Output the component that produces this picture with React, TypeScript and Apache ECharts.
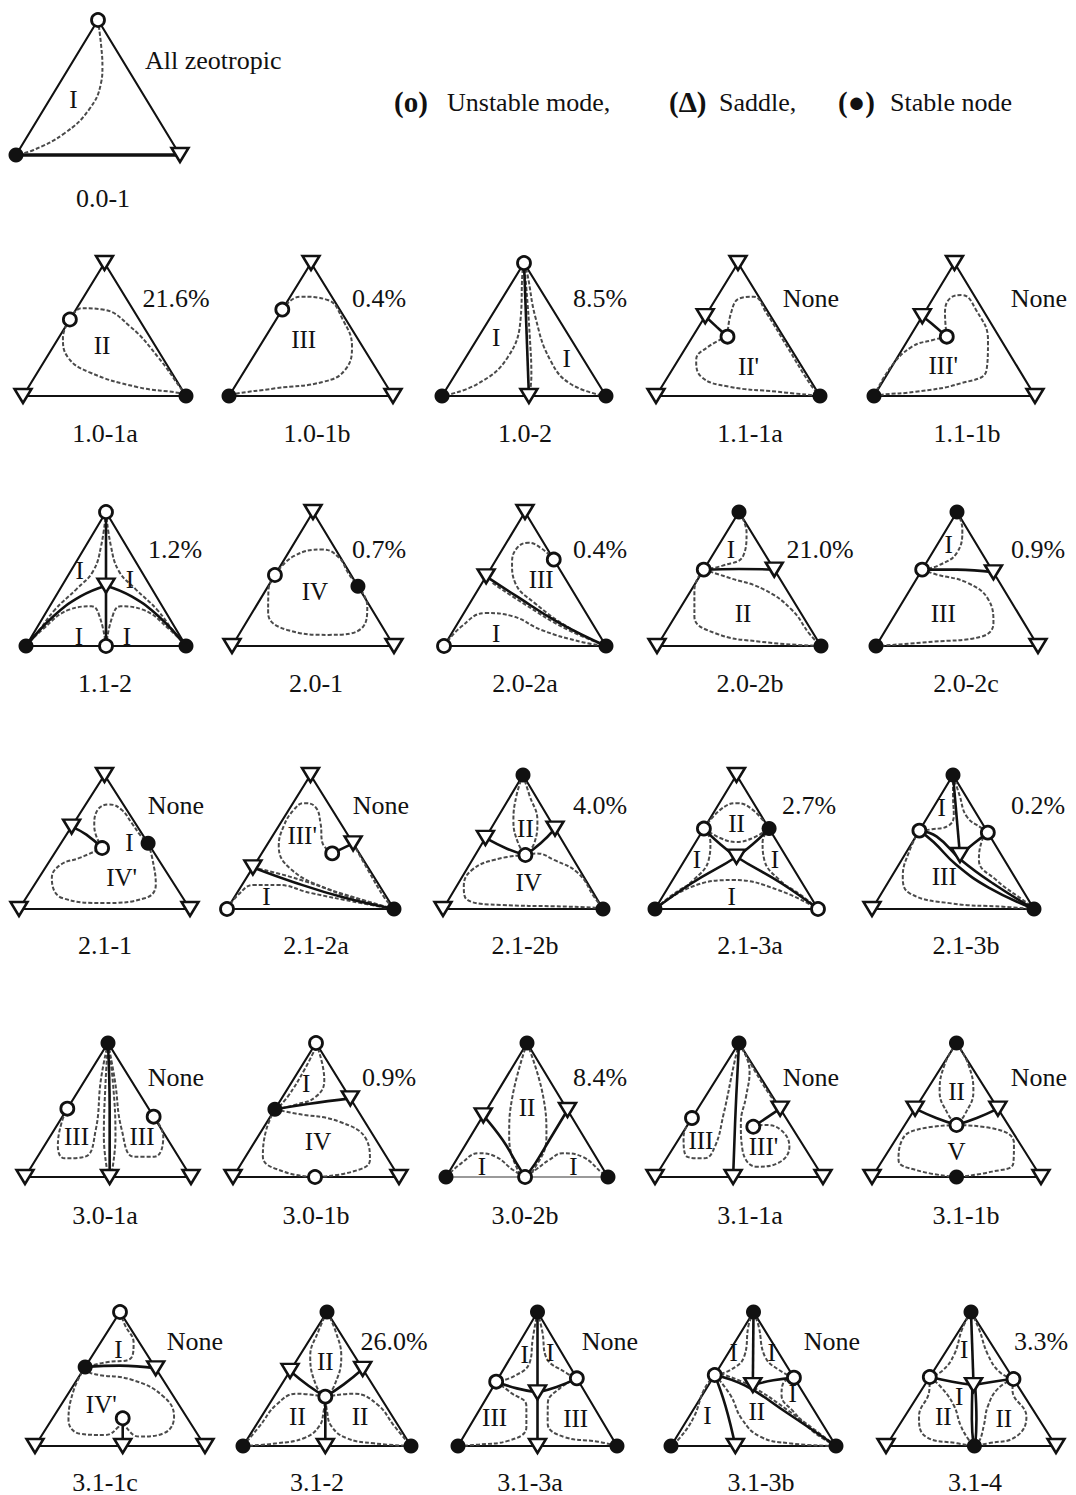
import React, { useEffect, useRef } from "react";
import * as echarts from "echarts";

type Pt = [number, number];
type Node = [string, number, number];
type Label = [string, number, number];

// ---------- data ----------
const NAMES = [
  "0.0-1",
  "1.0-1a", "1.0-1b", "1.0-2", "1.1-1a", "1.1-1b",
  "1.1-2", "2.0-1", "2.0-2a", "2.0-2b", "2.0-2c",
  "2.1-1", "2.1-2a", "2.1-2b", "2.1-3a", "2.1-3b",
  "3.0-1a", "3.0-1b", "3.0-2b", "3.1-1a", "3.1-1b",
  "3.1-1c", "3.1-2", "3.1-3a", "3.1-3b", "3.1-4",
];

const SHARES = [
  "All zeotropic",
  "21.6%", "0.4%", "8.5%", "None", "None",
  "1.2%", "0.7%", "0.4%", "21.0%", "0.9%",
  "None", "None", "4.0%", "2.7%", "0.2%",
  "None", "0.9%", "8.4%", "None", "None",
  "None", "26.0%", "None", "None", "3.3%",
];

const LEGEND_MARKS = ["(o)", "(\u0394)", "(\u25CF)"];
const LEGEND_TEXTS = ["Unstable mode,", "Saddle,", "Stable node"];

// o = unstable node, s = saddle, n = stable node; [kind, u, v] in triangle coordinates
const NODES: Node[][] = [
  [["o", 0.5, 1], ["n", 0, 0], ["s", 1, 0]],
  [["s", 0.5, 1], ["s", 0, 0], ["n", 1, 0], ["o", 0.2875, 0.575]],
  [["s", 0.5, 1], ["n", 0, 0], ["s", 1, 0], ["o", 0.325, 0.65]],
  [["o", 0.5, 1], ["n", 0, 0], ["n", 1, 0], ["s", 0.53, 0]],
  [["s", 0.5, 1], ["s", 0, 0], ["n", 1, 0], ["s", 0.3, 0.6], ["o", 0.436, 0.446]],
  [["s", 0.5, 1], ["n", 0, 0], ["s", 1, 0], ["s", 0.3, 0.6], ["o", 0.452, 0.446]],
  [["o", 0.5, 1], ["n", 0, 0], ["n", 1, 0], ["o", 0.5, 0], ["s", 0.5, 0.45]],
  [["s", 0.5, 1], ["s", 0, 0], ["s", 1, 0], ["o", 0.265, 0.53], ["n", 0.7775, 0.445]],
  [["s", 0.5, 1], ["o", 0, 0], ["n", 1, 0], ["s", 0.26, 0.52], ["o", 0.6775, 0.645]],
  [["n", 0.5, 1], ["s", 0, 0], ["n", 1, 0], ["o", 0.285, 0.57], ["s", 0.715, 0.57]],
  [["n", 0.5, 1], ["n", 0, 0], ["s", 1, 0], ["o", 0.285, 0.57], ["s", 0.725, 0.55]],
  [["s", 0.5, 1], ["s", 0, 0], ["s", 1, 0], ["s", 0.3075, 0.615], ["o", 0.486, 0.455], ["n", 0.755, 0.49]],
  [["s", 0.5, 1], ["o", 0, 0], ["n", 1, 0], ["s", 0.155, 0.31], ["s", 0.755, 0.49], ["o", 0.63, 0.415]],
  [["n", 0.5, 1], ["s", 0, 0], ["n", 1, 0], ["s", 0.265, 0.53], ["s", 0.7, 0.6], ["o", 0.515, 0.403]],
  [["s", 0.5, 1], ["n", 0, 0], ["o", 1, 0], ["o", 0.3, 0.6], ["n", 0.7, 0.6], ["s", 0.5, 0.39]],
  [["n", 0.5, 1], ["s", 0, 0], ["n", 1, 0], ["o", 0.2925, 0.585], ["o", 0.715, 0.57], ["s", 0.543, 0.403]],
  [["n", 0.5, 1], ["s", 0, 0], ["s", 0.51, 0], ["s", 1, 0], ["o", 0.255, 0.51], ["o", 0.775, 0.45]],
  [["o", 0.5, 1], ["s", 0, 0], ["s", 1, 0], ["o", 0.494, 0], ["s", 0.7065, 0.587], ["n", 0.2525, 0.505]],
  [["n", 0.5, 1], ["n", 0, 0], ["n", 1, 0], ["o", 0.488, 0], ["s", 0.23, 0.46], ["s", 0.75, 0.5]],
  [["n", 0.5, 1], ["s", 0, 0], ["s", 0.465, 0], ["s", 1, 0], ["o", 0.22, 0.44], ["s", 0.745, 0.51], ["o", 0.585, 0.375]],
  [["n", 0.5, 1], ["s", 0, 0], ["s", 1, 0], ["n", 0.5, 0], ["s", 0.255, 0.51], ["s", 0.745, 0.51], ["o", 0.5, 0.388]],
  [["o", 0.5, 1], ["s", 0, 0], ["s", 0.516, 0], ["s", 1, 0], ["n", 0.295, 0.59], ["s", 0.71, 0.58], ["o", 0.516, 0.207]],
  [["n", 0.5, 1], ["n", 0, 0], ["n", 1, 0], ["s", 0.49, 0], ["s", 0.28, 0.56], ["s", 0.7125, 0.575], ["o", 0.49, 0.368]],
  [["n", 0.5, 1], ["n", 0, 0], ["n", 1, 0], ["s", 0.5, 0], ["o", 0.24, 0.48], ["o", 0.7475, 0.505], ["s", 0.5, 0.4]],
  [["n", 0.5, 1], ["n", 0, 0], ["n", 1, 0], ["s", 0.39, 0], ["o", 0.265, 0.53], ["o", 0.745, 0.51], ["s", 0.496, 0.455]],
  [["n", 0.5, 1], ["s", 0, 0], ["s", 1, 0], ["n", 0.52, 0], ["o", 0.2575, 0.515], ["o", 0.75, 0.5], ["s", 0.515, 0.455]],
];

// solid separatrices
const SOLID: Pt[][][] = [
  [],
  [],
  [],
  [[[0.5, 1], [0.53, 0]]],
  [[[0.3, 0.6], [0.37, 0.52], [0.436, 0.446]]],
  [[[0.3, 0.6], [0.354, 0.549], [0.452, 0.446]]],
  [[[0.5, 1], [0.5, 0.45]], [[0.5, 0.45], [0.5, 0]], [[0.5, 0.45], [0.34, 0.37], [0.17, 0.22], [0, 0]], [[0.5, 0.45], [0.66, 0.37], [0.83, 0.22], [1, 0]]],
  [],
  [[[0.26, 0.52], [0.45, 0.37], [0.7, 0.18], [1, 0]]],
  [[[0.285, 0.57], [0.5, 0.575], [0.715, 0.57]]],
  [[[0.285, 0.57], [0.5, 0.57], [0.725, 0.55]]],
  [[[0.3075, 0.615], [0.394, 0.555], [0.486, 0.455]]],
  [[[0.755, 0.49], [0.63, 0.415]], [[0.155, 0.31], [0.4, 0.2], [0.7, 0.085], [1, 0]]],
  [[[0.265, 0.53], [0.4, 0.45], [0.515, 0.403]], [[0.515, 0.403], [0.61, 0.49], [0.7, 0.6]]],
  [[[0, 0], [0.225, 0.192], [0.5, 0.39], [0.629, 0.515], [0.7, 0.6]], [[0.3, 0.6], [0.371, 0.515], [0.5, 0.39], [0.775, 0.192], [1, 0]]],
  [[[0.5, 1], [0.543, 0.403]], [[0.543, 0.403], [0.63, 0.49], [0.715, 0.57]], [[0.2925, 0.585], [0.4, 0.54], [0.55, 0.366], [0.745, 0.192], [1, 0]], [[0.2925, 0.585], [0.38, 0.5], [0.52, 0.33], [0.72, 0.16], [1, 0]]],
  [[[0.5, 1], [0.51, 0.5], [0.51, 0]]],
  [[[0.2525, 0.505], [0.45, 0.545], [0.7065, 0.587]]],
  [[[0.23, 0.46], [0.35, 0.276], [0.436, 0.102], [0.488, 0]], [[0.75, 0.5], [0.64, 0.28], [0.55, 0.1], [0.488, 0]]],
  [[[0.5, 1], [0.48, 0.5], [0.465, 0]], [[0.745, 0.51], [0.585, 0.375]]],
  [[[0.255, 0.51], [0.38, 0.44], [0.5, 0.388]], [[0.5, 0.388], [0.62, 0.44], [0.745, 0.51]]],
  [[[0.295, 0.59], [0.5, 0.6], [0.71, 0.58]], [[0.516, 0.207], [0.516, 0]]],
  [[[0.28, 0.56], [0.39, 0.45], [0.49, 0.368]], [[0.49, 0.368], [0.6, 0.46], [0.7125, 0.575]], [[0.49, 0.368], [0.49, 0]]],
  [[[0.5, 1], [0.5, 0.4]], [[0.5, 0.4], [0.5, 0]], [[0.24, 0.48], [0.37, 0.43], [0.5, 0.4]], [[0.5, 0.4], [0.62, 0.44], [0.7475, 0.505]]],
  [[[0.5, 1], [0.496, 0.455]], [[0.496, 0.455], [0.62, 0.49], [0.745, 0.51]], [[0.265, 0.53], [0.45, 0.45], [0.7, 0.25], [1, 0]], [[0.265, 0.53], [0.33, 0.3], [0.39, 0]]],
  [[[0.5, 1], [0.515, 0.455]], [[0.2575, 0.515], [0.39, 0.48], [0.515, 0.455]], [[0.515, 0.455], [0.63, 0.48], [0.75, 0.5]], [[0.508, 0.44], [0.505, 0.2], [0.515, 0]], [[0.525, 0.44], [0.532, 0.2], [0.525, 0]]],
];

// dashed boundaries of distillation regions
const DASHED: Pt[][][] = [
  [[[0.5, 1], [0.52, 0.8], [0.527, 0.654], [0.518, 0.531], [0.443, 0.333], [0.296, 0.161], [0.107, 0.037], [0, 0]]],
  [
    [[0.2875, 0.575], [0.36, 0.66], [0.49, 0.65], [0.66, 0.52], [0.83, 0.29], [0.975, 0.045], [1, 0]],
    [[0.2875, 0.575], [0.245, 0.44], [0.276, 0.29], [0.405, 0.18], [0.7, 0.068], [0.97, 0.02], [1, 0]],
  ],
  [[[0.325, 0.65], [0.433, 0.747], [0.602, 0.722], [0.695, 0.571], [0.75, 0.371], [0.707, 0.195], [0.579, 0.108], [0.285, 0.058], [0.03, 0.015], [0, 0]]],
  [
    [[0.5, 1], [0.49, 0.92], [0.48, 0.59], [0.4, 0.29], [0.215, 0.09], [0, 0]],
    [[0.5, 1], [0.52, 0.92], [0.57, 0.59], [0.66, 0.27], [0.785, 0.09], [1, 0]],
    [[0.5, 1], [0.515, 0.8], [0.535, 0.45], [0.545, 0.15], [0.535, 0.02]],
  ],
  [
    [[0.436, 0.446], [0.457, 0.622], [0.509, 0.734], [0.595, 0.747], [0.675, 0.62], [0.8, 0.37], [0.94, 0.09], [1, 0]],
    [[0.436, 0.446], [0.319, 0.371], [0.245, 0.271], [0.276, 0.145], [0.447, 0.07], [0.742, 0.032], [1, 0]],
  ],
  [
    [[0.452, 0.446], [0.441, 0.622], [0.472, 0.734], [0.547, 0.759], [0.634, 0.647], [0.708, 0.421], [0.699, 0.195], [0.538, 0.095], [0.258, 0.032], [0.05, 0.01], [0, 0]],
    [[0.452, 0.446], [0.366, 0.421], [0.236, 0.371], [0.106, 0.22], [0, 0]],
  ],
  [
    [[0.5, 1], [0.47, 0.75], [0.42, 0.56], [0.32, 0.43], [0.18, 0.27], [0.06, 0.08], [0, 0]],
    [[0.5, 1], [0.53, 0.75], [0.58, 0.56], [0.68, 0.43], [0.82, 0.27], [0.94, 0.08], [1, 0]],
    [[0.5, 0], [0.46, 0.22], [0.41, 0.296], [0.27, 0.271], [0.1, 0.12], [0, 0]],
    [[0.5, 0], [0.54, 0.22], [0.59, 0.296], [0.73, 0.271], [0.9, 0.12], [1, 0]],
  ],
  [
    [[0.265, 0.53], [0.38, 0.67], [0.56, 0.72], [0.66, 0.66], [0.72, 0.54], [0.7775, 0.445]],
    [[0.265, 0.53], [0.225, 0.42], [0.223, 0.246], [0.341, 0.12], [0.597, 0.083], [0.81, 0.145], [0.835, 0.3], [0.7775, 0.445]],
  ],
  [
    [[0.6775, 0.645], [0.6, 0.73], [0.52, 0.77], [0.45, 0.73], [0.42, 0.62], [0.44, 0.47], [0.56, 0.32], [0.78, 0.13], [1, 0]],
    [[0, 0], [0.107, 0.145], [0.257, 0.246], [0.43, 0.22], [0.6, 0.12], [0.85, 0.03], [1, 0]],
    [[0.3, 0.47], [0.5, 0.31], [0.75, 0.13], [1, 0]],
  ],
  [
    [[0.285, 0.57], [0.4, 0.6], [0.525, 0.671], [0.546, 0.847], [0.5, 1]],
    [[0.285, 0.57], [0.228, 0.421], [0.228, 0.22], [0.356, 0.095], [0.632, 0.032], [1, 0]],
    [[0.285, 0.57], [0.44, 0.509], [0.653, 0.421], [0.822, 0.27], [0.93, 0.09], [1, 0]],
  ],
  [
    [[0.285, 0.57], [0.383, 0.6], [0.5, 0.697], [0.533, 0.872], [0.5, 1]],
    [[0.285, 0.57], [0.373, 0.534], [0.565, 0.471], [0.694, 0.346], [0.725, 0.17], [0.651, 0.07], [0.351, 0.032], [0, 0]],
  ],
  [
    [[0.486, 0.455], [0.44, 0.62], [0.46, 0.74], [0.53, 0.78], [0.6, 0.74], [0.66, 0.64], [0.71, 0.55], [0.755, 0.49]],
    [[0.755, 0.49], [0.779, 0.381], [0.8, 0.181], [0.739, 0.082], [0.496, 0.045], [0.253, 0.082], [0.192, 0.231], [0.243, 0.33], [0.354, 0.381], [0.486, 0.455]],
  ],
  [
    [[0.63, 0.415], [0.57, 0.5], [0.56, 0.64], [0.53, 0.76], [0.46, 0.79], [0.4, 0.74], [0.34, 0.62], [0.31, 0.47], [0.38, 0.3], [0.6, 0.15], [0.85, 0.05], [1, 0]],
    [[0, 0], [0.07, 0.11], [0.16, 0.18], [0.3, 0.18], [0.5, 0.12], [0.8, 0.045], [1, 0]],
    [[0.755, 0.49], [0.84, 0.3], [0.94, 0.09], [1, 0]],
    [[0.155, 0.31], [0.38, 0.24], [0.7, 0.11], [1, 0]],
  ],
  [
    [[0.5, 1], [0.46, 0.85], [0.44, 0.66], [0.47, 0.49], [0.515, 0.403]],
    [[0.5, 1], [0.54, 0.85], [0.59, 0.66], [0.57, 0.49], [0.515, 0.403]],
    [[0.515, 0.403], [0.33, 0.37], [0.18, 0.29], [0.13, 0.17], [0.15, 0.07], [0.37, 0.03], [0.7, 0.02], [0.95, 0.01], [1, 0]],
    [[0.515, 0.403], [0.585, 0.415], [0.694, 0.366], [0.846, 0.266], [0.945, 0.09], [1, 0]],
  ],
  [
    [[0.3, 0.6], [0.4, 0.74], [0.5, 0.79], [0.6, 0.74], [0.7, 0.6]],
    [[0.3, 0.6], [0.4, 0.53], [0.5, 0.5], [0.6, 0.53], [0.7, 0.6]],
    [[0.3, 0.6], [0.34, 0.5], [0.33, 0.37], [0.24, 0.22], [0.1, 0.1], [0, 0]],
    [[0.7, 0.6], [0.66, 0.5], [0.67, 0.37], [0.76, 0.22], [0.9, 0.1], [1, 0]],
    [[0, 0], [0.225, 0.166], [0.48, 0.216], [0.756, 0.142], [1, 0]],
  ],
  [
    [[0.5, 1], [0.5, 0.85], [0.505, 0.7], [0.47, 0.62], [0.37, 0.595], [0.2925, 0.585]],
    [[0.5, 1], [0.54, 0.85], [0.585, 0.69], [0.68, 0.6], [0.715, 0.57]],
    [[0.2925, 0.585], [0.233, 0.44], [0.19, 0.241], [0.233, 0.117], [0.489, 0.042], [0.81, 0.017], [1, 0]],
    [[0.715, 0.57], [0.68, 0.515], [0.66, 0.366], [0.767, 0.216], [0.96, 0.042], [1, 0]],
  ],
  [
    [[0.5, 1], [0.457, 0.724], [0.426, 0.351], [0.363, 0.152], [0.239, 0.139], [0.198, 0.226], [0.219, 0.4], [0.255, 0.51]],
    [[0.5, 1], [0.541, 0.724], [0.583, 0.351], [0.656, 0.152], [0.78, 0.152], [0.833, 0.3], [0.775, 0.45]],
    [[0.5, 1], [0.485, 0.7], [0.475, 0.3], [0.495, 0.05]],
    [[0.5, 1], [0.53, 0.7], [0.545, 0.3], [0.525, 0.05]],
  ],
  [
    [[0.5, 1], [0.55, 0.724], [0.5, 0.6], [0.37, 0.537], [0.2525, 0.505]],
    [[0.5, 0.97], [0.43, 0.8], [0.33, 0.6], [0.265, 0.51]],
    [[0.2525, 0.505], [0.37, 0.475], [0.64, 0.413], [0.805, 0.276], [0.825, 0.127], [0.72, 0.04], [0.494, 0]],
    [[0.2525, 0.505], [0.2, 0.351], [0.18, 0.152], [0.305, 0.04], [0.494, 0]],
  ],
  [
    [[0.5, 1], [0.41, 0.6], [0.39, 0.3], [0.45, 0.03], [0.488, 0]],
    [[0.5, 1], [0.6, 0.6], [0.62, 0.3], [0.53, 0.03], [0.488, 0]],
    [[0, 0], [0.094, 0.102], [0.2, 0.177], [0.307, 0.152], [0.414, 0.052], [0.488, 0]],
    [[0.488, 0], [0.56, 0.06], [0.64, 0.13], [0.72, 0.177], [0.84, 0.152], [0.967, 0.027], [1, 0]],
  ],
  [
    [[0.5, 1], [0.47, 0.84], [0.408, 0.468], [0.356, 0.226], [0.293, 0.139], [0.19, 0.152], [0.17, 0.3], [0.22, 0.44]],
    [[0.5, 1], [0.563, 0.79], [0.542, 0.6], [0.511, 0.4], [0.521, 0.201], [0.605, 0.077], [0.729, 0.102], [0.8, 0.226], [0.749, 0.351], [0.646, 0.388], [0.585, 0.375]],
    [[0.5, 1], [0.6, 0.78], [0.68, 0.62], [0.745, 0.51]],
  ],
  [
    [[0.5, 1], [0.43, 0.84], [0.4, 0.64], [0.45, 0.468], [0.5, 0.388]],
    [[0.5, 1], [0.57, 0.84], [0.6, 0.64], [0.55, 0.468], [0.5, 0.388]],
    [[0.5, 0.388], [0.26, 0.351], [0.178, 0.276], [0.157, 0.127], [0.26, 0.052], [0.5, 0]],
    [[0.5, 0.388], [0.754, 0.351], [0.84, 0.251], [0.836, 0.102], [0.71, 0.04], [0.5, 0]],
  ],
  [
    [[0.5, 1], [0.53, 0.9], [0.58, 0.77], [0.56, 0.65], [0.42, 0.625], [0.295, 0.59]],
    [[0.295, 0.59], [0.33, 0.543], [0.573, 0.493], [0.757, 0.368], [0.818, 0.219], [0.757, 0.095], [0.614, 0.07], [0.533, 0.144], [0.516, 0.207]],
    [[0.295, 0.59], [0.228, 0.418], [0.197, 0.194], [0.268, 0.09], [0.411, 0.082], [0.492, 0.144], [0.516, 0.207]],
  ],
  [
    [[0.5, 1], [0.45, 0.86], [0.4, 0.667], [0.438, 0.443], [0.49, 0.368]],
    [[0.5, 1], [0.55, 0.86], [0.585, 0.667], [0.541, 0.443], [0.49, 0.368]],
    [[0.49, 0.368], [0.32, 0.39], [0.2, 0.31], [0.1, 0.15], [0, 0]],
    [[0, 0], [0.2, 0.02], [0.365, 0.06], [0.455, 0.15], [0.48, 0.26], [0.49, 0.368]],
    [[0.49, 0.368], [0.66, 0.39], [0.8, 0.31], [0.9, 0.15], [1, 0]],
    [[1, 0], [0.78, 0.02], [0.614, 0.06], [0.525, 0.15], [0.5, 0.26], [0.49, 0.368]],
  ],
  [
    [[0.5, 1], [0.47, 0.8], [0.45, 0.62], [0.35, 0.52], [0.24, 0.48]],
    [[0.5, 1], [0.531, 0.85], [0.553, 0.666], [0.684, 0.543], [0.7475, 0.505]],
    [[0.24, 0.48], [0.33, 0.4], [0.43, 0.3], [0.43, 0.14], [0.32, 0.04], [0.12, 0.01], [0, 0]],
    [[0.7475, 0.505], [0.64, 0.43], [0.565, 0.32], [0.564, 0.169], [0.663, 0.069], [0.882, 0.032], [1, 0]],
  ],
  [
    [[0.5, 1], [0.47, 0.9], [0.443, 0.666], [0.359, 0.567], [0.265, 0.53]],
    [[0.5, 1], [0.53, 0.9], [0.57, 0.666], [0.655, 0.567], [0.745, 0.51]],
    [[0.745, 0.51], [0.68, 0.47], [0.67, 0.38], [0.74, 0.26], [0.87, 0.1], [1, 0]],
    [[0.265, 0.53], [0.2, 0.42], [0.14, 0.22], [0.06, 0.07], [0, 0]],
    [[0.265, 0.53], [0.36, 0.38], [0.43, 0.2], [0.54, 0.07], [0.72, 0.02], [1, 0]],
    [[0.3, 0.54], [0.48, 0.45], [0.71, 0.265], [1, 0]],
  ],
  [
    [[0.5, 1], [0.45, 0.88], [0.4, 0.68], [0.33, 0.56], [0.2575, 0.515]],
    [[0.5, 1], [0.545, 0.88], [0.6, 0.68], [0.67, 0.55], [0.75, 0.5]],
    [[0.2575, 0.515], [0.255, 0.418], [0.194, 0.219], [0.235, 0.069], [0.418, 0.02], [0.52, 0]],
    [[0.2575, 0.515], [0.33, 0.43], [0.4, 0.3], [0.44, 0.15], [0.49, 0.04], [0.52, 0]],
    [[0.75, 0.5], [0.744, 0.418], [0.826, 0.219], [0.764, 0.069], [0.6, 0.02], [0.52, 0]],
    [[0.75, 0.5], [0.66, 0.43], [0.6, 0.3], [0.575, 0.15], [0.55, 0.04], [0.52, 0]],
  ],
];

// region labels
const REGIONS: Label[][] = [
  [["I", 0.35, 0.41]],
  [["II", 0.485, 0.376]],
  [["III", 0.455, 0.425]],
  [["I", 0.33, 0.44], ["I", 0.76, 0.28]],
  [["II'", 0.564, 0.22]],
  [["III'", 0.43, 0.233]],
  [["I", 0.335, 0.56], ["I", 0.65, 0.5], ["I", 0.33, 0.07], ["I", 0.63, 0.07]],
  [["IV", 0.512, 0.408]],
  [["III", 0.6, 0.5], ["I", 0.322, 0.095]],
  [["I", 0.45, 0.72], ["II", 0.525, 0.246]],
  [["I", 0.448, 0.76], ["III", 0.415, 0.246]],
  [["I", 0.645, 0.5], ["IV'", 0.6, 0.235]],
  [["III'", 0.45, 0.55], ["I", 0.236, 0.092]],
  [["II", 0.515, 0.6], ["IV", 0.535, 0.2]],
  [["II", 0.5, 0.64], ["I", 0.257, 0.366], ["I", 0.735, 0.366], ["I", 0.47, 0.092]],
  [["I", 0.43, 0.76], ["III", 0.446, 0.241]],
  [["III", 0.31, 0.3], ["III", 0.705, 0.3]],
  [["I", 0.44, 0.7], ["IV", 0.512, 0.263]],
  [["II", 0.5, 0.52], ["I", 0.222, 0.077], ["I", 0.786, 0.077]],
  [["III", 0.273, 0.276], ["III'", 0.646, 0.226]],
  [["II", 0.5, 0.64], ["V", 0.5, 0.19]],
  [["I", 0.49, 0.72], ["IV'", 0.39, 0.306]],
  [["II", 0.49, 0.63], ["II", 0.324, 0.219], ["II", 0.697, 0.219]],
  [["I", 0.42, 0.68], ["I", 0.58, 0.7], ["III", 0.23, 0.21], ["III", 0.74, 0.207]],
  [["I", 0.38, 0.7], ["I", 0.61, 0.7], ["I", 0.738, 0.393], ["I", 0.22, 0.23], ["II", 0.52, 0.26]],
  [["I", 0.46, 0.72], ["I", 0.43, 0.37], ["II", 0.337, 0.219], ["II", 0.693, 0.207]],
];

const GRAY_BASE = [18];

// ---------- layout (pixels) ----------
// [top, bottom, nameY, shareY]
const ROWS = [
  [20, 155, 198, 60],
  [263, 396, 433, 298],
  [512, 646, 683, 549],
  [775, 909, 945, 805],
  [1043, 1177, 1215, 1077],
  [1312, 1446, 1482, 1341],
];
// [row, left, right, nameX, shareX]
const PANELS = [
  [0, 16, 180, 103, 145],
  [1, 23, 186, 105, 176], [1, 229, 393, 317, 379], [1, 442, 606, 525, 600], [1, 656, 820, 750, 811], [1, 874, 1035, 967, 1039],
  [2, 26, 186, 105, 175], [2, 232, 394, 316, 379], [2, 444, 606, 525, 600], [2, 657, 821, 750, 820], [2, 876, 1038, 966, 1038],
  [3, 19, 190, 105, 176], [3, 227, 394, 316, 381], [3, 443, 603, 525, 600], [3, 655, 818, 750, 809], [3, 872, 1034, 966, 1038],
  [4, 25, 191, 105, 176], [4, 233, 399, 316, 389], [4, 446, 608, 525, 600], [4, 655, 823, 750, 811], [4, 872, 1041, 966, 1039],
  [5, 35, 205, 105, 195], [5, 243, 411, 317, 394], [5, 458, 617, 530, 610], [5, 671, 836, 761, 832], [5, 886, 1056, 975, 1041],
];
const LEGEND_X = [[394, 447], [669, 719], [838, 890]];
const LEGEND_Y = 102;

const INK = "#111111";
const SERIF = "'Liberation Serif', 'Times New Roman', serif";

function nodeItem(n: Node) {
  const [k, u, v] = n;
  if (k === "n") {
    return { value: [u, v], symbol: "circle", symbolSize: 15, itemStyle: { color: INK, borderColor: INK, borderWidth: 0, opacity: 1 } };
  }
  if (k === "o") {
    return { value: [u, v], symbol: "circle", symbolSize: 13, itemStyle: { color: "#fff", borderColor: INK, borderWidth: 2.8, opacity: 1 } };
  }
  return { value: [u, v], symbol: "triangle", symbolSize: [17, 14], symbolRotate: 180, itemStyle: { color: "#fff", borderColor: INK, borderWidth: 2.5, opacity: 1 } };
}

function textEl(text: string, x: number, y: number, size: number, align: string, weight = "normal") {
  return {
    type: "text",
    x,
    y,
    silent: true,
    style: {
      text,
      fill: INK,
      fontSize: size,
      fontFamily: SERIF,
      fontWeight: weight,
      textAlign: align,
      align,
      textVerticalAlign: "middle",
      verticalAlign: "middle",
    },
  };
}

function buildOption() {
  const grid: any[] = [];
  const xAxis: any[] = [];
  const yAxis: any[] = [];
  const series: any[] = [];
  const graphic: any[] = [];

  PANELS.forEach((p, i) => {
    const [row, L, R, nameX, shareX] = p;
    const [top, bottom, nameY, shareY] = ROWS[row];
    grid.push({ left: L, top, width: R - L, height: bottom - top, show: false, containLabel: false });
    xAxis.push({ type: "value", gridIndex: i, min: 0, max: 1, show: false });
    yAxis.push({ type: "value", gridIndex: i, min: 0, max: 1, show: false });
    const ax = { xAxisIndex: i, yAxisIndex: i };
    const common = { type: "line", ...ax, symbol: "none", showSymbol: false, clip: false, silent: true, animation: false };

    series.push({ ...common, data: [[0, 0], [0.5, 1], [1, 0]], lineStyle: { color: INK, width: 2.1, join: "miter" }, z: 2 });
    series.push({
      ...common,
      data: [[0, 0], [1, 0]],
      lineStyle: { color: GRAY_BASE.includes(i) ? "#9a9a9a" : INK, width: i === 0 ? 3.4 : 2.1 },
      z: 2,
    });
    DASHED[i].forEach((c) => {
      series.push({ ...common, data: c, smooth: 0.45, lineStyle: { color: "#4a4a4a", width: 2, type: [4, 2], opacity: 1 }, z: 3 });
    });
    SOLID[i].forEach((c) => {
      series.push({ ...common, data: c, smooth: 0.45, lineStyle: { color: INK, width: 2.6, opacity: 1 }, z: 4 });
    });
    series.push({
      type: "scatter",
      ...ax,
      silent: true,
      animation: false,
      clip: false,
      itemStyle: { opacity: 1 },
      data: NODES[i].map(nodeItem),
      z: 10,
    });
    series.push({
      type: "scatter",
      ...ax,
      silent: true,
      animation: false,
      clip: false,
      symbolSize: 1,
      itemStyle: { color: "rgba(0,0,0,0)", opacity: 1 },
      data: REGIONS[i].map(([t, u, v]) => ({ name: t, value: [u, v] })),
      label: { show: true, position: "inside", formatter: "{b}", fontFamily: SERIF, fontSize: 25, color: INK },
      z: 11,
    });

    graphic.push(textEl(NAMES[i], nameX, nameY, 26, "center"));
    if (i === 0) {
      graphic.push(textEl(SHARES[i], shareX, shareY, 26, "left"));
    } else {
      graphic.push(textEl(SHARES[i], shareX, shareY, 26, "center"));
    }
  });

  LEGEND_MARKS.forEach((m, k) => {
    graphic.push(textEl(m, LEGEND_X[k][0], LEGEND_Y, 29, "left", "bold"));
    graphic.push(textEl(LEGEND_TEXTS[k], LEGEND_X[k][1], LEGEND_Y, 26, "left"));
  });

  return {
    animation: false,
    backgroundColor: "#ffffff",
    grid,
    xAxis,
    yAxis,
    series,
    graphic,
  };
}

export default function App() {
  const ref = useRef<HTMLDivElement>(null);
  useEffect(() => {
    document.body.style.margin = "0";
    if (!ref.current) return;
    const chart = echarts.init(ref.current, undefined, { renderer: "svg" });
    chart.setOption(buildOption() as any);
    return () => chart.dispose();
  }, []);
  return <div ref={ref} style={{ width: 1076, height: 1495, background: "#fff" }} />;
}
